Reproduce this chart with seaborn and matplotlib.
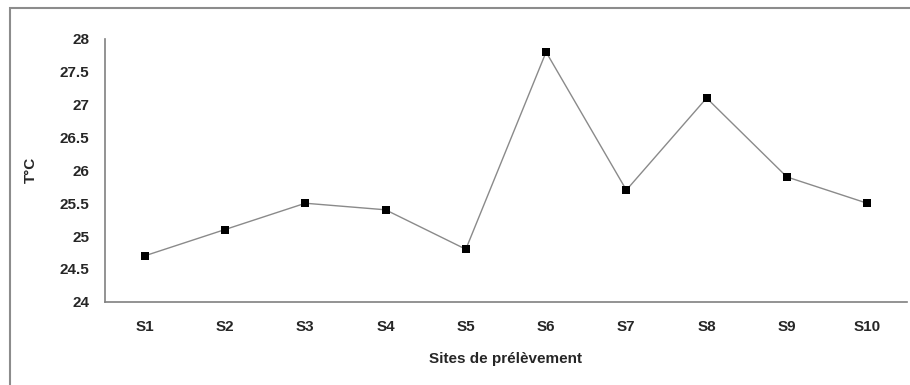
import seaborn as sns
import matplotlib.pyplot as plt
import numpy as np
import pandas as pd
from matplotlib.patches import Rectangle

sites = ['S1', 'S2', 'S3', 'S4', 'S5', 'S6', 'S7', 'S8', 'S9', 'S10']
temp = [24.7, 25.1, 25.5, 25.4, 24.8, 27.8, 25.7, 27.1, 25.9, 25.5]

df = pd.DataFrame({'pos': np.arange(len(sites)), 'temp': temp})

sns.set_style('white')
plt.rcParams['font.family'] = ['Liberation Sans', 'DejaVu Sans']

fig = plt.figure(figsize=(9.1, 3.85), dpi=100)
ax = fig.add_axes([0.115, 0.216, 0.882, 0.683])

sns.lineplot(data=df, x='pos', y='temp', ax=ax, color='#8a8a8a', linewidth=1.0,
             marker='s', markersize=5.5, markerfacecolor='black',
             markeredgecolor='black', markeredgewidth=0)

# frame around the whole chart, like the Excel chart area
fig.patches.append(Rectangle((10 / 910, -0.05), 1.2, (385 - 8) / 385 + 0.05,
                             transform=fig.transFigure, fill=False,
                             edgecolor='#8c8c8c', linewidth=1.5))

ax.set_xlim(-0.5, len(sites) - 0.5)
ax.set_ylim(24, 28)
ax.set_yticks(np.arange(24, 28.01, 0.5))
ax.set_yticklabels(['24', '24.5', '25', '25.5', '26', '26.5', '27', '27.5', '28'],
                   fontweight='bold', fontsize=11)
ax.set_xticks(np.arange(len(sites)))
ax.set_xticklabels(sites, fontweight='bold', fontsize=11)
ax.set_xticks(np.arange(-0.5, len(sites)), minor=True)
ax.tick_params(axis='x', which='major', length=0, pad=13)
ax.tick_params(axis='x', which='minor', length=5, width=1, color='#808080', direction='out')
ax.tick_params(axis='y', length=5, width=1, color='#808080', direction='out', pad=6)

for s in ['top', 'right']:
    ax.spines[s].set_visible(False)
for s in ['left', 'bottom']:
    ax.spines[s].set_color('#808080')
    ax.spines[s].set_linewidth(1.2)

ax.set_xlabel('Sites de prélèvement', fontweight='bold', fontsize=11, labelpad=13)
ax.set_ylabel('T°C', fontweight='bold', fontsize=11, labelpad=16)

fig.savefig('out.png', dpi=100)
